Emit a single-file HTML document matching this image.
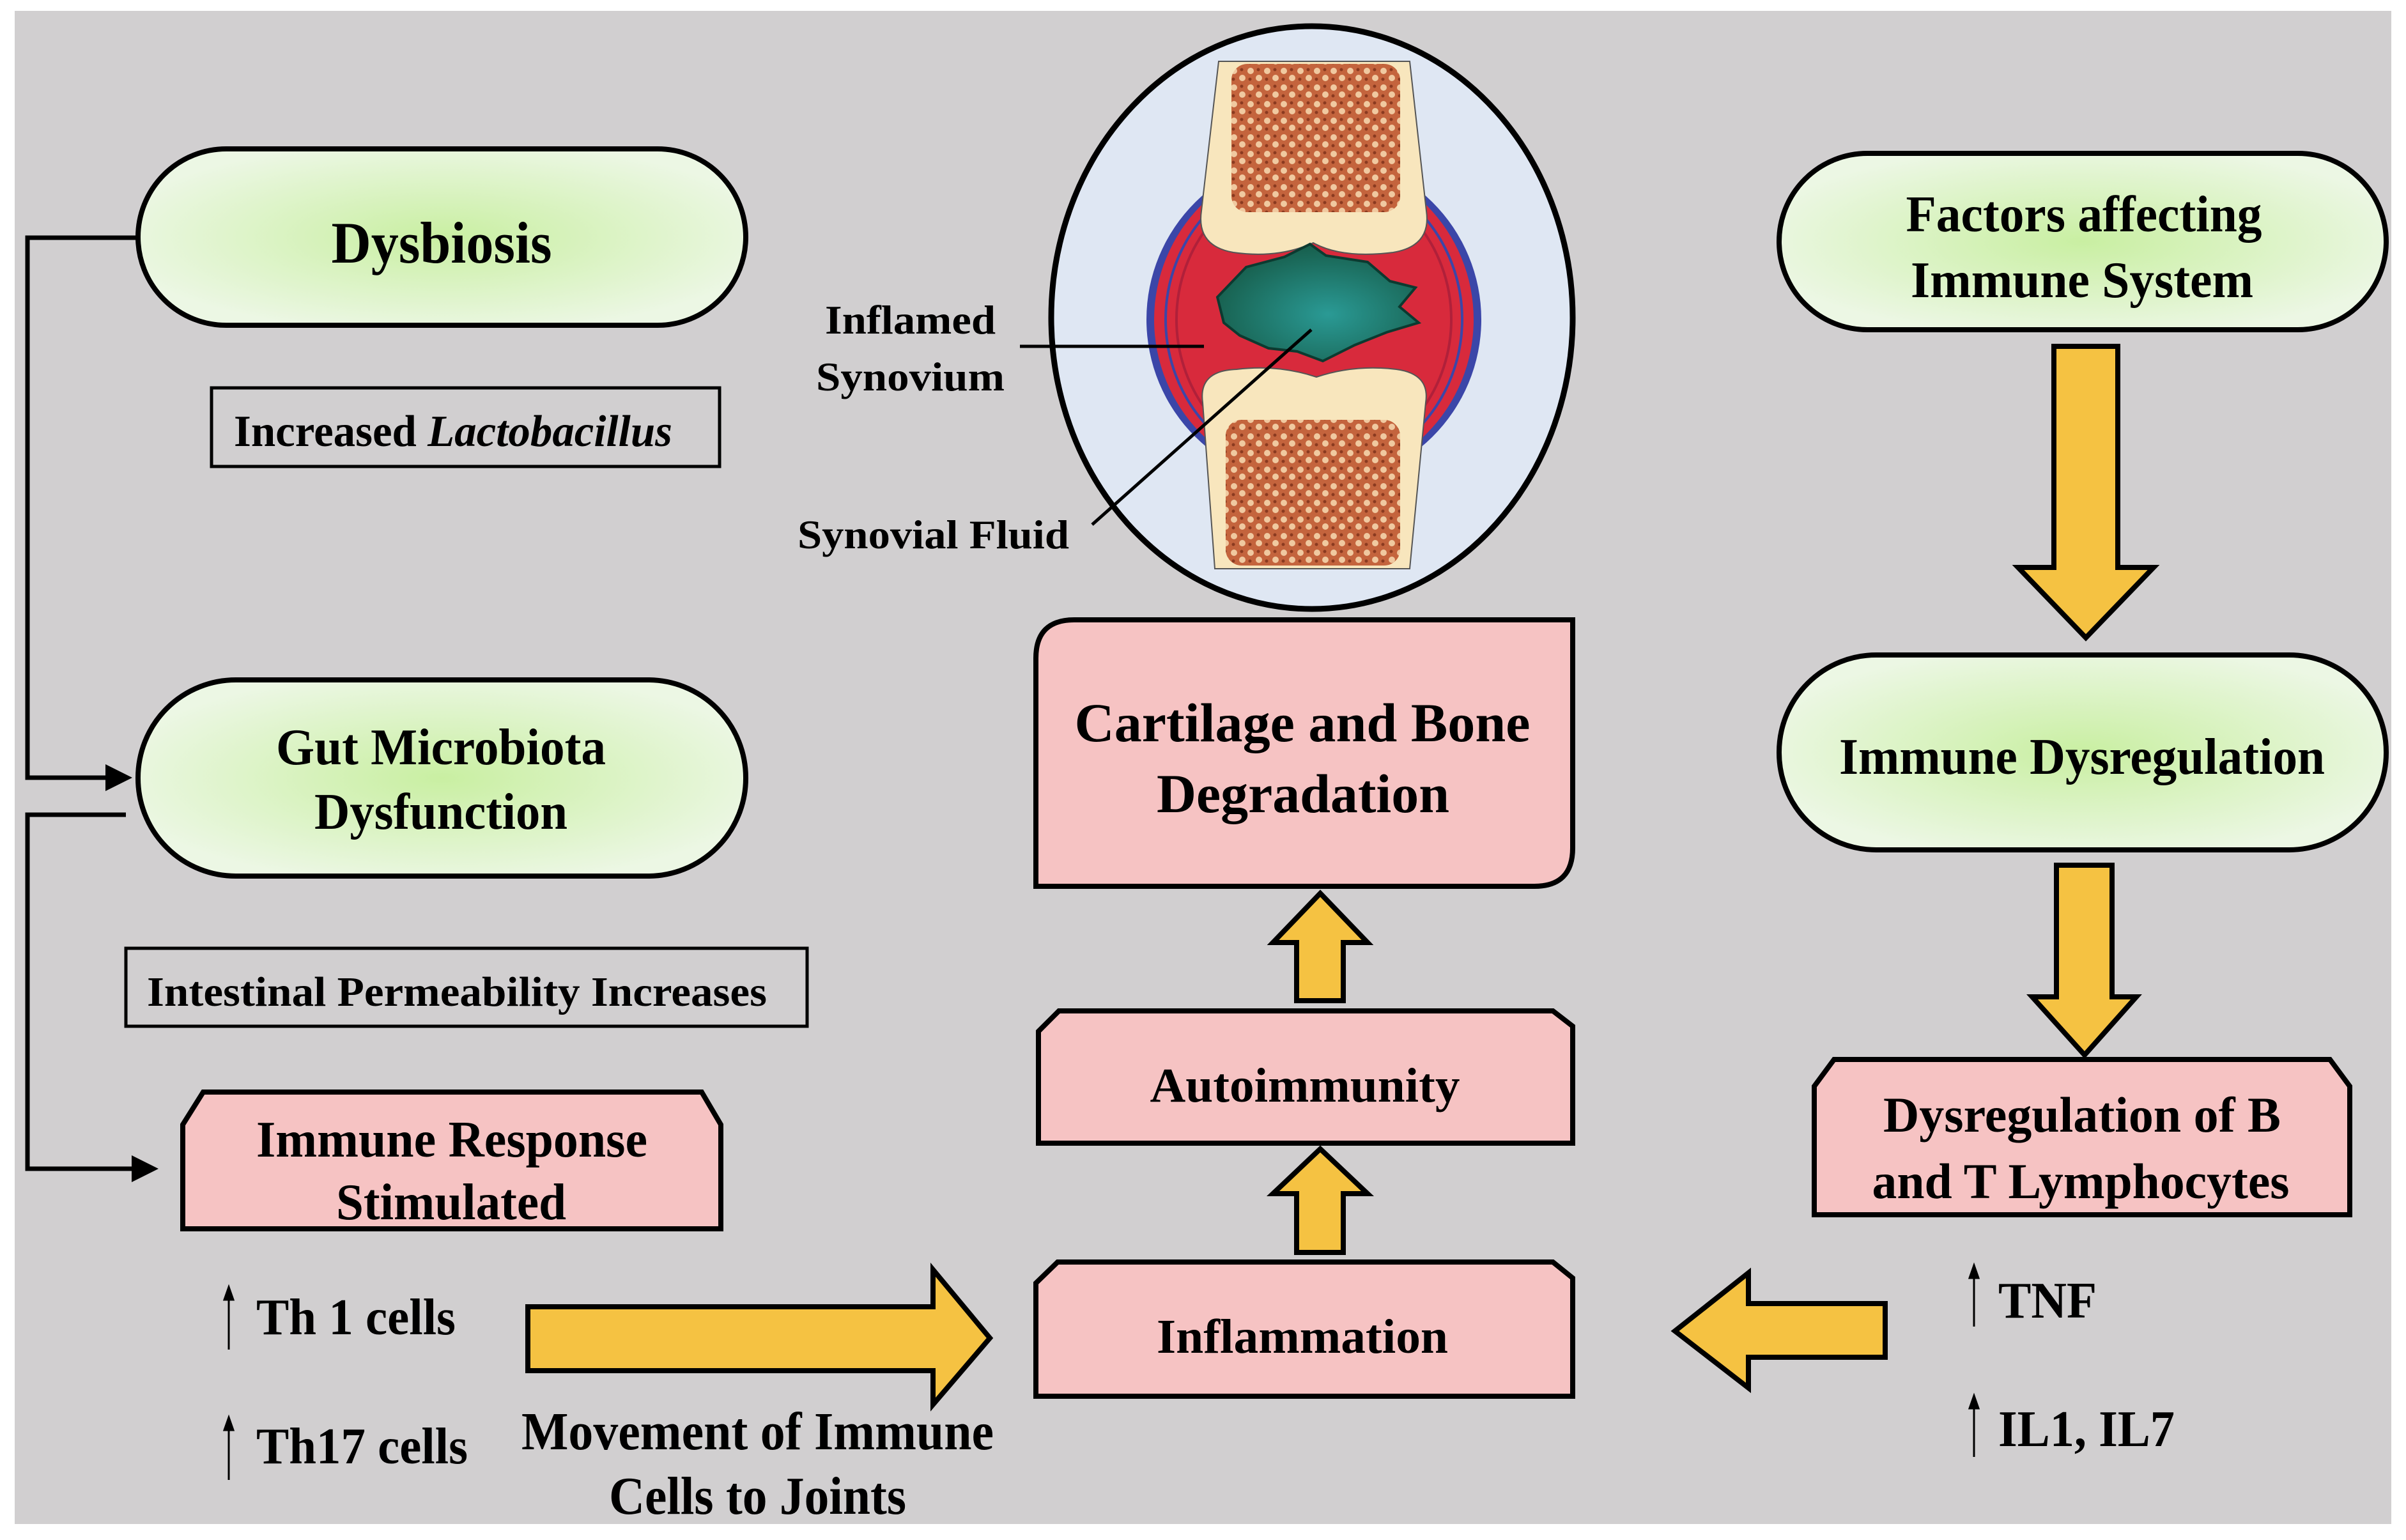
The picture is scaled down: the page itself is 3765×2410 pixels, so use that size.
<!DOCTYPE html>
<html><head><meta charset="utf-8"><style>
html,body{margin:0;padding:0;background:#fff}
svg{display:block}
text{font-family:"Liberation Serif",serif;font-weight:bold;fill:#000}
</style></head><body>
<svg width="3765" height="2410" viewBox="0 0 3765 2410" xmlns="http://www.w3.org/2000/svg">
<defs>
<radialGradient id="pg" cx="50%" cy="50%" r="55%">
<stop offset="0" stop-color="#c9efa2"/><stop offset="1" stop-color="#ecf7e4"/>
</radialGradient>
<radialGradient id="fl" cx="55%" cy="60%" r="60%">
<stop offset="0" stop-color="#2a9a95"/><stop offset="1" stop-color="#175e4c"/>
</radialGradient>
<pattern id="sp" width="26" height="26" patternUnits="userSpaceOnUse">
<rect width="26" height="26" fill="#c4643d"/>
<circle cx="7" cy="7" r="5" fill="#f0c9a0"/><circle cx="20" cy="18" r="5" fill="#f0c9a0"/>
<circle cx="19" cy="5" r="2.5" fill="#8a3a20"/><circle cx="6" cy="20" r="2.5" fill="#8a3a20"/>
</pattern>
<marker id="ah" markerWidth="6" markerHeight="6" refX="5" refY="3" orient="auto" markerUnits="strokeWidth">
<path d="M0,0 L6,3 L0,6 z" fill="#000"/></marker>
</defs>
<rect x="0" y="0" width="3765" height="2410" fill="#fff"/>
<rect x="23" y="17" width="3719" height="2368" fill="#d1cfd0"/>

<!-- connectors -->
<polyline points="216,372 43,372 43,1217 200,1217" fill="none" stroke="#000" stroke-width="7" marker-end="url(#ah)"/>
<polyline points="197,1275 43,1275 43,1829 241,1829" fill="none" stroke="#000" stroke-width="7" marker-end="url(#ah)"/>

<!-- pills -->
<rect x="216" y="233" width="951" height="276" rx="138" fill="url(#pg)" stroke="#000" stroke-width="8"/>
<text x="691" y="411" font-size="92" text-anchor="middle" textLength="345" lengthAdjust="spacingAndGlyphs">Dysbiosis</text>
<rect x="216" y="1064" width="951" height="307" rx="153" fill="url(#pg)" stroke="#000" stroke-width="8"/>
<text x="690" y="1196" font-size="80" text-anchor="middle" textLength="516" lengthAdjust="spacingAndGlyphs">Gut Microbiota</text>
<text x="690" y="1297" font-size="80" text-anchor="middle" textLength="396" lengthAdjust="spacingAndGlyphs">Dysfunction</text>
<rect x="2784" y="240" width="950" height="276" rx="138" fill="url(#pg)" stroke="#000" stroke-width="8"/>
<text x="3261" y="362" font-size="80" text-anchor="middle" textLength="557" lengthAdjust="spacingAndGlyphs">Factors affecting</text>
<text x="3258" y="465" font-size="80" text-anchor="middle" textLength="536" lengthAdjust="spacingAndGlyphs">Immune System</text>
<rect x="2784" y="1025" width="950" height="305" rx="152" fill="url(#pg)" stroke="#000" stroke-width="8"/>
<text x="3258" y="1211" font-size="80" text-anchor="middle" textLength="760" lengthAdjust="spacingAndGlyphs">Immune Dysregulation</text>

<!-- plain boxes -->
<rect x="331" y="607" width="795" height="123" fill="none" stroke="#000" stroke-width="5"/>
<text x="366" y="698" font-size="70" textLength="686" lengthAdjust="spacingAndGlyphs">Increased <tspan font-style="italic">Lactobacillus</tspan></text>
<rect x="197" y="1484" width="1066" height="122" fill="none" stroke="#000" stroke-width="5"/>
<text x="230" y="1574" font-size="66" textLength="970" lengthAdjust="spacingAndGlyphs">Intestinal Permeability Increases</text>

<!-- pink boxes -->
<path d="M286,1760 L318,1709 L1098,1709 L1128,1760 L1128,1923 L286,1923 Z" fill="#f6c3c3" stroke="#000" stroke-width="8"/>
<text x="707" y="1810" font-size="80" text-anchor="middle" textLength="612" lengthAdjust="spacingAndGlyphs">Immune Response</text>
<text x="706" y="1908" font-size="80" text-anchor="middle" textLength="360" lengthAdjust="spacingAndGlyphs">Stimulated</text>

<path d="M2839,1700 L2870,1658 L3646,1658 L3677,1700 L3677,1901 L2839,1901 Z" fill="#f6c3c3" stroke="#000" stroke-width="8"/>
<text x="3258" y="1771" font-size="78" text-anchor="middle" textLength="622" lengthAdjust="spacingAndGlyphs">Dysregulation of B</text>
<text x="3256" y="1875" font-size="78" text-anchor="middle" textLength="653" lengthAdjust="spacingAndGlyphs">and T Lymphocytes</text>

<path d="M1681,970 L2461,970 L2461,1327 Q2461,1387 2401,1387 L1621,1387 L1621,1030 Q1621,970 1681,970 Z" fill="#f6c3c3" stroke="#000" stroke-width="8"/>
<text x="2038" y="1160" font-size="86" text-anchor="middle" textLength="713" lengthAdjust="spacingAndGlyphs">Cartilage and Bone</text>
<text x="2039" y="1271" font-size="86" text-anchor="middle" textLength="458" lengthAdjust="spacingAndGlyphs">Degradation</text>

<path d="M1625,1614 L1657,1582 L2430,1582 L2461,1606 L2461,1789 L1625,1789 Z" fill="#f6c3c3" stroke="#000" stroke-width="8"/>
<text x="2042" y="1724" font-size="76" text-anchor="middle" textLength="485" lengthAdjust="spacingAndGlyphs">Autoimmunity</text>
<path d="M1621,2008 L1655,1975 L2430,1975 L2461,2000 L2461,2185 L1621,2185 Z" fill="#f6c3c3" stroke="#000" stroke-width="8"/>
<text x="2038" y="2117" font-size="76" text-anchor="middle" textLength="456" lengthAdjust="spacingAndGlyphs">Inflammation</text>

<!-- yellow arrows -->
<g fill="#f5c242" stroke="#000" stroke-width="8" stroke-linejoin="miter">
<path d="M2029,1566 L2029,1475 L1992,1475 L2066,1398 L2140,1475 L2102,1475 L2102,1566 Z"/>
<path d="M2029,1960 L2029,1868 L1992,1868 L2066,1798 L2140,1868 L2102,1868 L2102,1960 Z"/>
<path d="M826,2045 L1460,2045 L1460,1987 L1549,2094 L1460,2198 L1460,2145 L826,2145 Z"/>
<path d="M2950,2040 L2736,2040 L2736,1992 L2621,2083 L2736,2172 L2736,2124 L2950,2124 Z"/>
<path d="M3214,542 L3314,542 L3314,888 L3370,888 L3264,998 L3158,888 L3214,888 Z"/>
<path d="M3218,1354 L3305,1354 L3305,1560 L3343,1560 L3262,1651 L3180,1560 L3218,1560 Z"/>
</g>

<!-- small up arrows -->
<g stroke="#000" stroke-width="3" fill="#000">
<line x1="358" y1="2112" x2="358" y2="2030"/><path d="M351,2034 L358,2014 L365,2034 Z"/>
<line x1="358" y1="2316" x2="358" y2="2234"/><path d="M351,2238 L358,2218 L365,2238 Z"/>
<line x1="3089" y1="2076" x2="3089" y2="1996"/><path d="M3082,2000 L3089,1980 L3096,2000 Z"/>
<line x1="3089" y1="2280" x2="3089" y2="2200"/><path d="M3082,2204 L3089,2184 L3096,2204 Z"/>
</g>
<text x="401" y="2088" font-size="80" textLength="312" lengthAdjust="spacingAndGlyphs">Th 1 cells</text>
<text x="401" y="2290" font-size="80" textLength="331" lengthAdjust="spacingAndGlyphs">Th17 cells</text>
<text x="816" y="2268" font-size="84" textLength="739" lengthAdjust="spacingAndGlyphs">Movement of Immune</text>
<text x="953" y="2369" font-size="84" textLength="465" lengthAdjust="spacingAndGlyphs">Cells to Joints</text>
<text x="3127" y="2062" font-size="80" textLength="154" lengthAdjust="spacingAndGlyphs">TNF</text>
<text x="3127" y="2263" font-size="80" textLength="276" lengthAdjust="spacingAndGlyphs">IL1, IL7</text>

<!-- joint -->
<ellipse cx="2053" cy="497" rx="408" ry="456" fill="#dfe7f3" stroke="#000" stroke-width="9"/>
<ellipse cx="2056" cy="500" rx="262" ry="260" fill="#3b46a8"/>
<ellipse cx="2056" cy="500" rx="250" ry="252" fill="#d82a3c"/>
<ellipse cx="2056" cy="500" rx="232" ry="240" fill="none" stroke="#3b46a8" stroke-width="4"/>
<ellipse cx="2056" cy="500" rx="215" ry="228" fill="none" stroke="#b0203a" stroke-width="4"/>
<path d="M1907,96 L2206,96 L2232,330 Q2240,385 2180,395 Q2100,405 2055,380 Q2000,405 1930,395 Q1872,385 1880,330 Z" fill="#f8e6bd" stroke="#555" stroke-width="2"/>
<rect x="1927" y="100" width="264" height="232" rx="25" fill="url(#sp)"/>
<path d="M1882,630 Q1875,580 1935,578 Q2000,570 2060,590 Q2120,570 2185,578 Q2238,585 2231,630 L2206,890 L1901,890 Z" fill="#f8e6bd" stroke="#555" stroke-width="2"/>
<rect x="1918" y="657" width="273" height="228" rx="25" fill="url(#sp)"/>
<path d="M1905,465 L1950,418 L2010,402 L2050,382 L2075,400 L2140,410 L2175,440 L2215,450 L2190,480 L2220,505 L2170,520 L2120,540 L2070,565 L2030,550 L1985,545 L1940,525 L1915,505 Z" fill="url(#fl)" stroke="#0c3a30" stroke-width="4"/>
<line x1="1596" y1="542" x2="1884" y2="542" stroke="#000" stroke-width="5"/>
<line x1="1709" y1="821" x2="2052" y2="516" stroke="#000" stroke-width="5"/>
<text x="1291" y="522" font-size="64" textLength="267" lengthAdjust="spacingAndGlyphs">Inflamed</text>
<text x="1277" y="611" font-size="64" textLength="295" lengthAdjust="spacingAndGlyphs">Synovium</text>
<text x="1248" y="858" font-size="64" textLength="425" lengthAdjust="spacingAndGlyphs">Synovial Fluid</text>
</svg>
</body></html>
